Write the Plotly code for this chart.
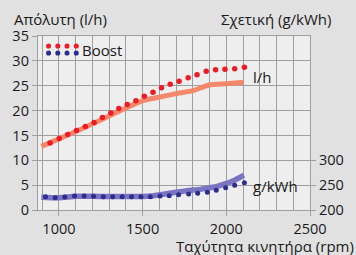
import plotly.graph_objects as go

# ---- data ----
rpm_std = [895, 1000, 1100, 1200, 1300, 1400, 1500, 1600, 1700, 1800, 1850, 1900, 2000, 2105]
lh_std = [12.8, 14.3, 15.8, 17.3, 18.9, 20.5, 22.0, 22.7, 23.4, 24.0, 24.6, 25.2, 25.4, 25.7]

rpm_boost_lh = [947, 1002, 1053, 1105, 1158, 1210, 1260, 1310, 1358, 1408, 1460, 1510,
                1562, 1613, 1665, 1718, 1772, 1825, 1880, 1936, 1992, 2050, 2108]
lh_boost = [13.5, 14.4, 15.2, 16.0, 16.8, 17.6, 18.6, 19.5, 20.4, 21.2, 22.0, 22.9,
            23.7, 24.6, 25.3, 25.9, 26.6, 27.2, 27.9, 28.2, 28.3, 28.4, 28.7]

rpm_gkwh_std = [895, 1000, 1100, 1200, 1300, 1400, 1500, 1550, 1650, 1750, 1850, 1950, 2000, 2050, 2105]
gkwh_std = [225.5, 224.5, 227.5, 227.5, 227, 227, 227, 228, 233, 238, 242, 248, 253.5, 260, 270]

rpm_boost_g = [920, 978, 1035, 1093, 1151, 1207, 1265, 1321, 1378, 1434, 1490, 1546,
               1604, 1659, 1715, 1775, 1829, 1887, 1940, 1996, 2050, 2108]
gkwh_boost = [226.8, 224.7, 226.2, 228.2, 228.2, 227.5, 226.8, 226.8, 226.8, 226.8, 226.8, 226.8,
              228.2, 228.8, 230.8, 232, 233.6, 235.6, 239.6, 245, 250, 255]

x_ticks = [1000, 1500, 2000, 2500]
y_ticks = [0, 5, 10, 15, 20, 25, 30, 35]
y2_ticks = [200, 250, 300]

# ---- styles ----
RED = "#ed1c24"
BLUE = "#2b2e8c"
ORANGE = "#f5876a"
PURPLE = "#7b74c2"
GRID = "#9f9f9f"
FONT = "Open Sans"
W, H = 356, 255
L, R, T, B = 31, 42, 36, 45


def px(x):
    return (x - L) / (W - L - R)


def py(y):
    return (H - B - y) / (H - T - B)


fig = go.Figure()
fig.add_trace(go.Scatter(x=rpm_std, y=lh_std, mode="lines",
                         line=dict(color=ORANGE, width=5, shape="spline", smoothing=0.4),
                         hoverinfo="skip"))
fig.add_trace(go.Scatter(x=rpm_gkwh_std, y=gkwh_std, mode="lines", yaxis="y2",
                         line=dict(color=PURPLE, width=5.5, shape="spline", smoothing=0.5),
                         hoverinfo="skip"))
fig.add_trace(go.Scatter(x=rpm_boost_lh, y=lh_boost, mode="markers",
                         marker=dict(color=RED, size=5.5), hoverinfo="skip"))
fig.add_trace(go.Scatter(x=rpm_boost_g, y=gkwh_boost, mode="markers", yaxis="y2",
                         marker=dict(color=BLUE, size=5), hoverinfo="skip"))

# legend swatches (dots)
shapes = []
for i in range(4):
    cx = 42 + i * 9.6
    for cy, col in ((46, RED), (53, BLUE)):
        r = 2.6
        shapes.append(dict(type="circle", xref="paper", yref="paper",
                           x0=px(cx - r), x1=px(cx + r), y0=py(cy + r), y1=py(cy - r),
                           fillcolor=col, line=dict(width=0)))

ann_font = dict(family=FONT, size=15, color="#1a1a1a")
annotations = [
    dict(text="Απόλυτη (l/h)", x=px(4), y=py(19), xanchor="left", yanchor="middle"),
    dict(text="Σχετική (g/kWh)", x=px(338), y=py(19), xanchor="right", yanchor="middle"),
    dict(text="Ταχύτητα κινητήρα (rpm)", x=px(362), y=py(246), xanchor="right", yanchor="middle"),
    dict(text="l/h", x=px(253), y=py(77), xanchor="left", yanchor="middle"),
    dict(text="g/kWh", x=px(253), y=py(186), xanchor="left", yanchor="middle"),
    dict(text="Boost", x=px(75), y=py(50), xanchor="left", yanchor="middle"),
]
for a in annotations:
    a.update(xref="paper", yref="paper", showarrow=False, font=ann_font)

fig.update_layout(
    width=W, height=H,
    margin=dict(l=L, r=R, t=T, b=B, pad=0),
    paper_bgcolor="#e1e1e1",
    plot_bgcolor="#eeeeee",
    showlegend=False,
    font=dict(family=FONT, size=14, color="#1a1a1a"),
    xaxis=dict(range=[875, 2500], tickvals=x_ticks, ticks="outside", ticklen=5,
               tickcolor=GRID, tickwidth=1.3,
               showgrid=True, gridcolor=GRID, gridwidth=1.3,
               minor=dict(dtick=100, tick0=0, showgrid=True, gridcolor=GRID, gridwidth=1.3),
               showline=True, linecolor=GRID, linewidth=1.3, mirror=True,
               zeroline=False, tickfont=dict(size=14.5)),
    yaxis=dict(range=[0, 35], tickvals=y_ticks, ticks="outside", ticklen=5,
               tickcolor=GRID, tickwidth=1.3,
               showgrid=True, gridcolor=GRID, gridwidth=1.3,
               showline=True, linecolor=GRID, linewidth=1.3, mirror=True,
               zeroline=False, tickfont=dict(size=14.5)),
    yaxis2=dict(range=[200, 550], tickvals=y2_ticks, overlaying="y", side="right",
                ticks="outside", ticklen=5, tickcolor=GRID, tickwidth=1.3,
                showgrid=False, zeroline=False, tickfont=dict(size=14.5)),
    shapes=shapes,
    annotations=annotations,
)

fig.write_html("out.html", config={"displayModeBar": False},
               post_script="document.body.style.margin='0';document.body.style.overflow='hidden';")
